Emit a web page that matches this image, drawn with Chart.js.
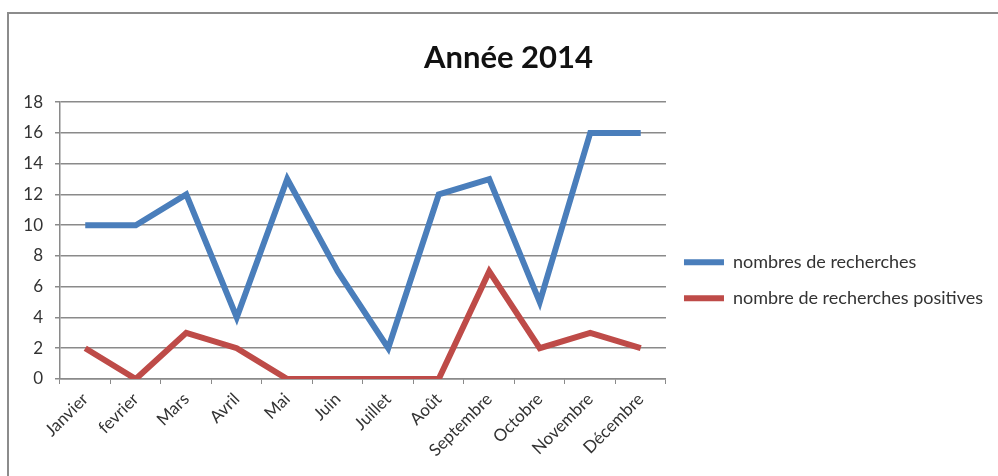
<!DOCTYPE html>
<html>
<head>
<meta charset="utf-8">
<script src="https://cdn.jsdelivr.net/npm/chart.js@4"></script>
<style>
    html, body { margin: 0; padding: 0; background: #fff; overflow: hidden; }
    #frame {
        position: absolute; left: 7px; top: 12px; width: 1100px; height: 600px;
        border-left: 2px solid #8c8c8c; border-top: 2px solid #8c8c8c;
    }
    #wrap { position: absolute; left: 0; top: 0; width: 998px; height: 476px; }
</style>
</head>
<body>
<div id="frame"></div>
<div id="wrap"><canvas id="chart" width="998" height="476"></canvas></div>
<script>
// Année 2014
const months = ['Janvier', 'fevrier', 'Mars', 'Avril', 'Mai', 'Juin', 'Juillet', 'Août', 'Septembre', 'Octobre', 'Novembre', 'Décembre'];
const recherches = [10, 10, 12, 4, 13, 7, 2, 12, 13, 5, 16, 16];
const recherchesPositives = [2, 0, 3, 2, 0, 0, 0, 0, 7, 2, 3, 2];
const seriesNames = ['nombres de recherches', 'nombre de recherches positives'];
const yMin = 0;
const yMax = 18;
const yStep = 2;

const FONT = 'Lato, "Open Sans", sans-serif';
const gridColor = '#8a8a8a';

document.addEventListener('DOMContentLoaded', () => {
    const ctx = document.getElementById('chart').getContext('2d');
    new Chart(ctx, {
        type: 'line',
        data: {
            labels: months,
            datasets: [
                {
                    label: seriesNames[0],
                    data: recherches,
                    borderColor: '#4a7ebb',
                    backgroundColor: '#4a7ebb',
                    borderWidth: 6,
                    pointRadius: 0,
                    pointStyle: 'line',
                    tension: 0,
                    fill: false
                },
                {
                    label: seriesNames[1],
                    data: recherchesPositives,
                    borderColor: '#be4b48',
                    backgroundColor: '#be4b48',
                    borderWidth: 6,
                    pointRadius: 0,
                    pointStyle: 'line',
                    tension: 0,
                    fill: false
                }
            ]
        },
        options: {
            responsive: false,
            animation: false,
            devicePixelRatio: 1,
            layout: {
                padding: { left: 24, right: 5, top: 0, bottom: 0 }
            },
            plugins: {
                title: {
                    display: true,
                    text: 'Année 2014',
                    color: '#111',
                    font: { family: FONT, size: 31, weight: 'bold', lineHeight: 1.2 },
                    padding: { top: 39, bottom: 26 }
                },
                legend: {
                    position: 'right',
                    maxWidth: 420,
                    // empty title only pushes the entries down, as in the original
                    title: {
                        display: true,
                        text: '',
                        font: { size: 12, lineHeight: 1.2 },
                        padding: { top: 70, bottom: 0 }
                    },
                    labels: {
                        usePointStyle: true,
                        pointStyleWidth: 40,
                        boxHeight: 18,
                        padding: 18,
                        color: '#333',
                        font: { family: FONT, size: 18 }
                    }
                },
                tooltip: { enabled: false }
            },
            scales: {
                x: {
                    offset: true,
                    afterFit: (scale) => { scale.height = 97; },
                    grid: {
                        offset: true,
                        drawOnChartArea: false,
                        drawTicks: true,
                        tickLength: 5,
                        color: gridColor
                    },
                    border: { color: gridColor, width: 1.5 },
                    ticks: {
                        autoSkip: false,
                        maxRotation: 45,
                        minRotation: 45,
                        padding: 5,
                        color: '#333',
                        font: { family: FONT, size: 17 }
                    }
                },
                y: {
                    min: yMin,
                    max: yMax,
                    afterFit: (scale) => { scale.width = 36; },
                    grid: {
                        color: gridColor,
                        lineWidth: 1.5,
                        tickLength: 5
                    },
                    border: { color: gridColor, width: 1.5 },
                    ticks: {
                        stepSize: yStep,
                        padding: 12,
                        color: '#333',
                        font: { family: FONT, size: 17 }
                    }
                }
            }
        }
    });
});
</script>
</body>
</html>
